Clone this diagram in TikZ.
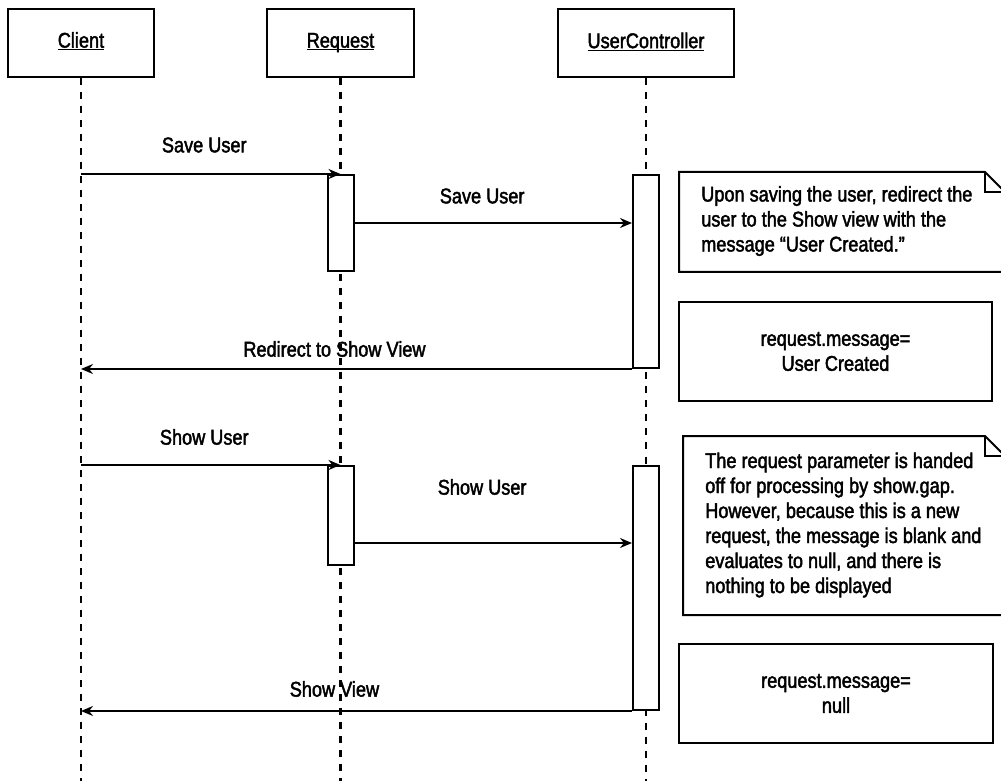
\documentclass[tikz,border=0pt]{standalone}
\usepackage{fontspec}
\setmainfont{Liberation Sans}[FakeStretch=0.85,FakeBold=2]
\usetikzlibrary{arrows.meta}

% note outline with folded corner: x1,y1,x2,y2
\newcommand\notefold[4]{%
  \draw[notebox] (#3,#2+20) -- (#3,#4) -- (#1,#4) -- (#1,#2) -- (#3-20,#2) -- cycle;
  \draw[notebox] (#3-20,#2) -- (#3-20,#2+20) -- (#3,#2+20);}

\begin{document}
\begin{tikzpicture}[
    x=0.75pt, y=-0.75pt,
    every node/.style={font=\fontsize{16}{18.75}\selectfont},
    head/.style={draw,rectangle,line width=1.5pt,minimum height=51pt,inner sep=0pt,text height=11pt,text depth=4pt},
    act/.style={draw,rectangle,fill=white,line width=1.5pt,minimum width=19.5pt,inner sep=0pt},
    life/.style={line width=1.6pt,dash pattern=on 5.25pt off 5.25pt},
    msg/.style={-{Stealth[length=9pt,width=7.5pt]},line width=1.3pt},
    lbl/.style={inner sep=0pt},
    memo/.style={draw,rectangle,line width=1.5pt,align=center,minimum width=235pt,minimum height=74.25pt},
    notebox/.style={line width=1.5pt,line join=miter},
    notetxt/.style={align=left,anchor=west,inner sep=0pt},
  ]
    \useasboundingbox (0,0) rectangle (1001,781);
    \clip (0,0) rectangle (1001,781);
    % lifeline heads
    \node[head,minimum width=109.5pt] (CL) at (81,43) {\underline{\smash{Client}}};
    \node[head,minimum width=110.25pt] (RQ) at (340.5,43) {\underline{\smash{Request}}};
    \node[head,minimum width=132pt] (UC) at (646,43.5) {\underline{\smash{UserController}}};
    \coordinate (CLend) at (CL.south |- 0,790);
    \coordinate (RQend) at (RQ.south |- 0,790);
    \coordinate (UCend) at (UC.south |- 0,790);
    \draw[life] (CL) -- (CLend);
    \draw[life] (RQ) -- (RQend);
    \draw[life] (UC) -- (UCend);
    % activations
    \node[act,minimum height=72pt]     (RQa) at (RQ.south |- 0,223) {};
    \node[act,minimum height=144.75pt] (UCa) at (UC.south |- 0,271.5) {};
    \node[act,minimum height=74.25pt]  (RQb) at (RQ.south |- 0,515.5) {};
    \node[act,minimum height=183pt]    (UCb) at (UC.south |- 0,588) {};
    % messages
    \draw[msg] (RQa.north -| CL.south) -- node[lbl,pos=0.475,yshift=21.75pt] {Save User} (RQa.north);
    \draw[msg] (RQa.east) -- node[lbl,pos=0.46,yshift=20.25pt] {Save User} (RQa.east -| UCa.west);
    \draw[msg] (UCa.south west) -- node[lbl,pos=0.54,yshift=15pt] {Redirect to Show View} (UCa.south west -| CL.south);
    \draw[msg] (RQb.north -| CL.south) -- node[lbl,pos=0.475,yshift=21pt] {Show User} (RQb.north);
    \coordinate (m5) at (RQb.east |- 0,543);
    \draw[msg] (m5) -- node[lbl,pos=0.46,yshift=42pt] {Show User} (m5 -| UCb.west);
    \draw[msg] (UCb.south west) -- node[lbl,pos=0.54,yshift=16.5pt] {Show View} (UCb.south west -| CL.south);
    % notes
    \notefold{679}{172}{1005}{272}
    \node[notetxt] (N1) at (701,221) {Upon saving the user, redirect the\\ user to the Show view with the\\ message “User Created.”};
    \node[memo] (N2) at (835.5,351.5) {request.message=\\ User Created};
    \notefold{683}{436}{1005}{615}
    \node[notetxt] (N3) at (705,525) {The request parameter is handed\\ off for processing by show.gap.\\ However, because this is a new\\ request, the message is blank and\\ evaluates to null, and there is\\ nothing to be displayed};
    \node[memo] (N4) at (836,693.5) {request.message=\\ null};
  \end{tikzpicture}
\end{document}
